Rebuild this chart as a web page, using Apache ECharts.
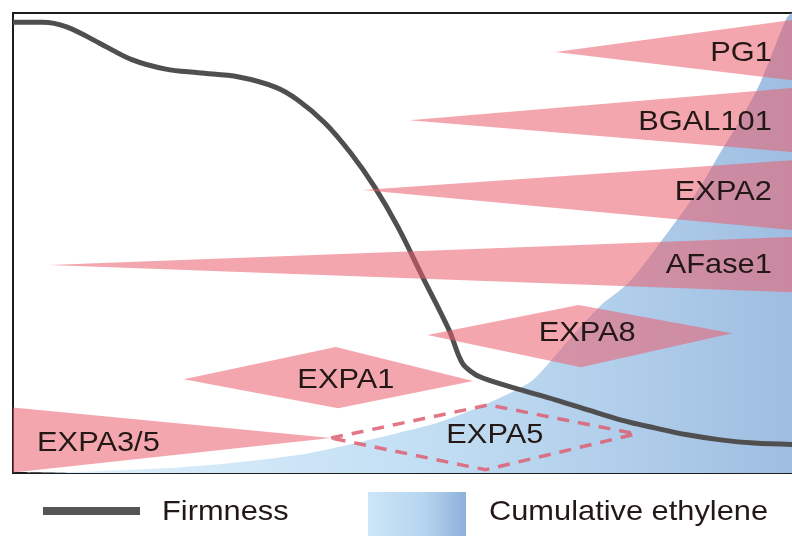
<!DOCTYPE html>
<html>
<head>
<meta charset="utf-8">
<script src="https://cdn.jsdelivr.net/npm/echarts@6/dist/echarts.min.js"></script>
<style>html,body{margin:0;padding:0;background:#fff}#c{width:792px;height:536px}</style>
</head>
<body>
<div id="c"></div>
<script>
// ---- data (time scale 0-100, relative level 0-100) ----
const firmness = [
  [0,98.0],[3.8,98.0],[6.9,97.0],[11.1,93.5],[15.4,89.8],[19.7,87.8],[23.9,87.0],
  [29.1,86.1],[33.8,83.9],[36.7,81.1],[40.2,76.1],[43.5,69.6],[46.6,62.2],[49.6,53.5],
  [52.8,42.6],[56.2,31.1],[57.9,23.9],[59.5,21.5],[61.3,20.2],[65.6,18.0],[69.9,15.9],
  [74.1,13.7],[78.4,11.5],[82.7,9.8],[86.9,8.3],[91.2,7.2],[95.5,6.5],[100.4,6.2]
];
const ethylene = [
  [0,0],[11.1,0.4],[23.9,1.5],[36.7,3.9],[43.1,6.1],[49.6,8.7],[54.7,10.9],[61.3,15.2],
  [66.5,19.6],[68.6,23.0],[72.0,29.6],[75.8,36.5],[79.3,41.3],[82.7,48.5],[85.4,54.6],
  [88.3,61.5],[91.2,69.8],[93.7,76.7],[96.3,84.8],[99.7,98.9],[100.4,100]
];
const genes = ['PG1','BGAL101','EXPA2','AFase1','EXPA8','EXPA1','EXPA3/5','EXPA5'];
const pg1     = [[69.9,91.5],[100.4,98.5],[100.4,85.4]];
const bgal101 = [[51.1,76.7],[100.4,83.7],[100.4,69.8]];
const expa2   = [[45.1,61.5],[100.4,68.0],[100.4,52.8]];
const afase1  = [[4.7,45.2],[100.4,51.3],[100.4,39.3]];
const expa8   = [[53.4,30.0],[72.9,36.5],[92.7,30.4],[73.2,23.0]];
const expa1   = [[22.0,20.4],[41.6,27.4],[59.3,20.0],[41.9,14.1]];
const expa35  = [[-0.5,14.3],[41.0,7.6],[-0.5,0]];
const expa5   = [[41.0,7.6],[61.3,14.8],[80.3,8.5],[60.9,0.7]];
const shapes = [pg1, bgal101, expa2, afase1, expa8, expa1, expa35, expa5];
const dashed = [false,false,false,false,false,false,false,true];
const labelAt = [[97.8,91.3],[97.8,76.3],[97.8,61.1],[97.8,45.1],[74.0,30.4],[42.9,20.2],[3.1,6.5],[62.1,8.3]];
const labelAlign = ['right','right','right','right','center','center','left','center'];
const legendNames = ['Firmness','Cumulative ethylene'];

const FONT = '28px "Liberation Sans", Arial, sans-serif';
const chart = echarts.init(document.getElementById('c'), null, {renderer:'canvas'});
chart.setOption({
  animation:false,
  grid:{left:13, right:-3, top:13, bottom:63, show:true, borderColor:'#1c1c1c', borderWidth:2, backgroundColor:'transparent'},
  xAxis:{type:'value', min:0, max:100.4, show:false},
  yAxis:{type:'value', min:0, max:100, show:false},
  series:[
    {
      name:legendNames[1], type:'line', data:ethylene, smooth:0.3, symbol:'none', z:1,
      lineStyle:{width:0},
      areaStyle:{opacity:1, color:new echarts.graphic.LinearGradient(0,0,1,0,[
        {offset:0,color:'#e2f3fc'},{offset:0.5,color:'#c4e0f4'},{offset:0.75,color:'#b3d0ec'},{offset:1,color:'#9fbde0'}])}
    },
    {
      name:legendNames[0], type:'line', data:firmness, smooth:0.35, symbol:'none', z:2,
      lineStyle:{width:5, color:'#4f4f4f'}
    },
    {
      type:'custom', z:3, clip:true,
      data:genes.map((g,i)=>[i]),
      renderItem:function(params, api){
        const i = params.dataIndex;
        const pts = shapes[i].map(p=>api.coord(p));
        if (dashed[i]) {
          return {type:'polygon', shape:{points:pts}, style:{fill:'none', stroke:'rgba(222,95,115,0.85)', lineWidth:3.5, lineDash:[12,9]}};
        }
        return {type:'polygon', shape:{points:pts}, style:{fill:'rgba(235,93,107,0.55)'}};
      }
    },
    {
      type:'custom', z:4, clip:true,
      data:genes.map((g,i)=>[i]),
      renderItem:function(params, api){
        const i = params.dataIndex;
        const p = api.coord(labelAt[i]);
        return {type:'text', x:p[0], y:p[1], scaleX:1.1, scaleY:1,
          style:{text:genes[i], font:FONT, fill:'#231815', textAlign:labelAlign[i], textVerticalAlign:'middle'}};
      }
    }
  ],
  graphic:[
    {type:'line', shape:{x1:43,y1:511,x2:140,y2:511}, style:{stroke:'#555555', lineWidth:8}},
    {type:'text', x:162, y:512, scaleX:1.1, style:{text:legendNames[0], font:FONT, fill:'#231815', textVerticalAlign:'middle'}},
    {type:'rect', shape:{x:368,y:492,width:98,height:50}, style:{fill:new echarts.graphic.LinearGradient(0,0,1,0,[
      {offset:0,color:'#cde7f8'},{offset:0.6,color:'#b4d3ef'},{offset:1,color:'#8eb0da'}])}},
    {type:'text', x:489, y:512, scaleX:1.1, style:{text:legendNames[1], font:FONT, fill:'#231815', textVerticalAlign:'middle'}}
  ]
});
</script>
</body>
</html>
